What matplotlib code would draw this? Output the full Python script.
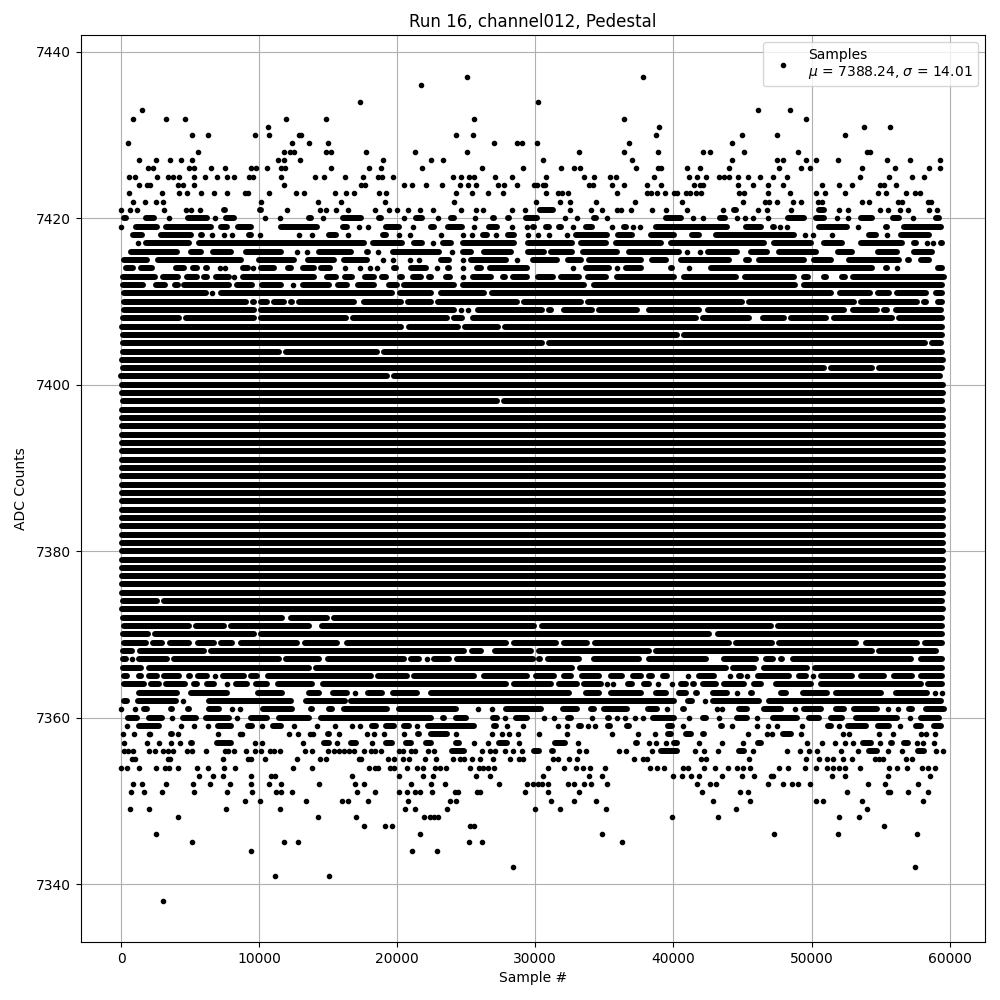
#!/usr/bin/python
#coding: utf8

##
## => Pedestal scatter for one ADC channel
## Values are read off the picture. Single numbers are separate dots,
## (start, end) pairs are stretches where the dots merge into one bar.
##

import matplotlib
matplotlib.use("Agg")
import matplotlib.pyplot as plt

## sparse dots above the band
top_levels = [7437, 7436, 7434, 7433, 7432, 7431, 7430, 7429, 7428, 7427, 7426, 7425, 7424, 7423, 7422, 7421]
top_samples = [
    [25080, 37825],
    [21750],
    [17330, 30220],
    [1545, 46150, 48470],
    [894, 3284, 4660, 11975, 14870, 25590, 36450, 49630],
    [10670, 38980, 53830, 55710],
    [5167, 6325, 9730, 10740, 12880, 13030, 24285, 25517, 38765, 44990, 47530, 52450],
    [532, 12410, 13640, 15015, 27040, 28700, 29060, 30150, 36810, 44270],
    [5600, 11830, 12260, 12550, 14870, 15230, 17770, 21320, 25080, 33190, 36450, 38910, 42170, 42675, 45140, 49050, 54045, 54260],
    [1330, 2560, 3570, 4370, 5170, 11395, 11830, 12990, 19000, 22475, 23345, 30580, 37030, 44270, 47530, 47960, 49630, 50350, 51945, 55500, 57160, 59330],
    [1980, 2340, 4950, 5310, 6540, 7556, 9440, 9800, 10600, 11610, 11900, 15230, 17985, 18850, 21820, 26170, 29140, 31885, 32825, 33260, 37315, 38910, 39130, 40985, 41950, 44050, 47670, 49265, 49920, 53685, 56075, 58535, 59330],
    [604, 1040, 2630, 3430, 3790, 4200, 5310, 6110, 6980, 7700, 8210, 9295, 9585, 11610, 14075, 14725, 16250, 17550, 18640, 18930, 19720, 24070, 24650, 25230, 25590, 27110, 28340, 30800, 33550, 34275, 35435, 35870, 38620, 41155, 41735, 42385, 43330, 43690, 44050, 44705, 45430, 46300, 47240, 48250, 53540, 55640, 57305, 58170],
    [1330, 1910, 2100, 4150, 4515, 5310, 11830, 17400, 17695, 20520, 21100, 22110, 23270, 24575, 25150, 25730, 27325, 27760, 28700, 29930, 30150, 30580, 30730, 33910, 34200, 35580, 36450, 38110, 39130, 41515, 41950, 42170, 44705, 45790, 46875, 47960, 50790, 52015, 52960, 54990, 55280, 56145],
    [604, 2990, 4225, 4805, 5820, 6760, 7700, 9005, 9220, 10740, 12700, 13280, 15520, 16320, 16900, 18710, 19215, 24285, 25445, 26600, 27690, 30800, 31670, 31960, 32390, 35940, 38110, 38400, 38830, 39420, 40070, 40285, 40940, 41230, 41660, 42025, 44775, 45140, 46875, 48470, 50350, 51000, 52450, 54840, 55420, 56870, 57520, 57885],
    [894, 1760, 2560, 3070, 10165, 14290, 15955, 19145, 24140, 30075, 31810, 32540, 34420, 37245, 40650, 45065, 46660, 46950, 47530, 48685, 49265, 50500, 50790, 53685, 54190, 56290, 56580, 58465, 58680],
    [25, 680, 1185, 3140, 4730, 5095, 5745, (7270, 7700), (9870, 10310), 12050, 14435, 14870, 15590, 16465, 18420, 19435, 20010, 20810, 21680, 22620, 24650, 25730, 26240, 28340, 29280, (30150, 31500), 32540, 34060, 34860, 35940, 36230, 36955, 38475, 39490, 40985, 43620, (44200, 44700), 46150, 46800, 48540, (50350, 51080), 52015, 52670, 54990, 55570, 56435, 57015, 58535, 59115],
]

## upper part of the band, broken rows
upper_levels = [7420, 7419, 7418, 7417, 7416, 7415, 7414, 7413, 7412, 7411, 7410, 7409, 7408, 7407, 7406, 7405, 7404, 7402, 7401, 7398]
upper_spans = [
    [(25, 530), (1620, 2580), 3500, (4150, 4515), (4640, 6450), 6810, (7410, 8380), 10450, 11540, (13450, 13930), 14650, (15860, 17550), (18470, 19000), 20520, (21170, 22020), 22980, (23710, 24320), 25640, (26720, 27210), (27830, 28300), (29140, 30300), 32180, 33050, (34050, 34560), 35220, (39270, 40720), 41450, 42170, (43200, 43900), 44580, 45190, 45790, 46880, (48080, 49650), (50140, 51100), 51825, 52670, (53400, 54600), (55690, 56540), 57380, (58830, 59430)],
    [25, (890, 2830), (3070, 6690), (7050, 7900), (8260, 9590), (10310, 10670), (11395, 14410), (15860, 16585), 17260, 17915, (19000, 20325), 21170, (22260, 22860), (23465, 24915), 25565, (26490, 27450), 28290, 29380, (29620, 30100), (30580, 31180), (31550, 32030), 32700, (33480, 34325), 35555, (36250, 36730), 37100, 37580, (38550, 44100), (45065, 46510), (47000, 47500), 47720, 48200, (50380, 52790), 53400, (55200, 55690), (56530, 59550)],
    [(650, 1740), (2700, 5240), (5600, 6085), 6615, 7485, 8065, (9100, 9585), 10090, 12915, 13860, (14890, 15740), 16465, (18760, 19360), 20160, 20950, 23200, 24800, 25445, (26000, 26720), 27180, (27810, 28660), 29500, 30220, 31020, 32270, (32750, 35410), (35770, 37220), (38190, 40240), (41150, 42050), (42890, 48930), 49530, 50130, 51460, (52070, 52430), (53995, 54840), 55450, (56290, 58700)],
    [(-70, 290), 1255, (1620, 5120), (5480, 17790), (18030, 20570), (21050, 22020), 22620, (23100, 24070), (24550, 28660), (29260, 32880), (33120, 35290), (35650, 39270), (39630, 46750), (47120, 50140), (50740, 52430), (53400, 56770), (57260, 57740), 58340, 58830, (59190, 59670)],
    [(530, 4270), (4880, 5960), (6450, 8140), (8860, 11760), 12720, 13450, (14170, 16825), (17670, 18030), 18640, (19480, 23230), 23950, (24550, 25520), (26120, 28410), (29260, 30820), (30940, 32880), (33240, 36130), (36620, 40600), 40960, 41930, (42290, 44820), (45430, 47000), (47480, 50500), (51700, 53150), (54600, 56410), (57260, 58950)],
    [(50, 2100), (2460, 8860), (9830, 12720), (13330, 15620), (15980, 18030), 19000, 19680, 20930, 21610, (22980, 23950), 24745, (25155, 28050), 28710, (29620, 31790), (32150, 33480), (33720, 37830), (38260, 39630), (40360, 44220), (45065, 45670), (46030, 49650), (50000, 51590), (52550, 56540), (56780, 57260), (57740, 58700)],
    [(170, 1040), (1260, 2440), (2830, 3070), (3790, 4730), (5000, 5720), (6000, 6450), 7160, 7510, (8080, 8420), (8620, 9350), 9590, (9980, 11280), (11900, 12480), (13020, 14170), (14300, 15340), 16190, 17335, 18030, 18520, (19600, 20110), (20810, 22260), 22860, (23470, 23950), 24770, (25600, 26240), (26550, 29620), (31300, 31670), 32760, (33480, 35530), 35890, (36375, 37830), (38190, 38550), (39630, 40120), 41150, (42530, 54600), (55200, 55690), 56170, (58950, 59670)],
    [(-60, 2660), (2850, 4330), (4560, 5720), (5840, 6450), (6720, 8000), 8210, (8620, 14170), (14700, 15740), (16000, 16950), (17500, 18520), (18700, 19400), (20030, 20570), (20930, 21900), (22140, 22620), (22860, 23150), (23350, 24020), 24770, (25310, 27000), (27480, 27980), (28170, 29620), (30040, 31500), (31670, 33350), (33600, 35300), (35700, 40260), (40560, 44700), (45000, 48930), (49300, 49950), (50700, 51250), (52000, 52600), (52800, 59750)],
    [(-40, 1780), (2340, 3350), (3700, 4300), (4400, 8000), (8240, 9700), (10000, 11740), 12440, (13020, 15280), (15500, 16580), (16950, 18520), (19250, 20200), (20330, 24320), (24550, 33700), (34050, 49000), (49300, 59650)],
    [(10, 6325), 6615, (7050, 19800), (20000, 22650), (22950, 26450), (26700, 51600), (51850, 54400), (54650, 55800), (56000, 58500), (58800, 59650)],
    [(48, 9220), (9340, 9826), (9945, 10790), (10910, 12000), (12120, 12600), (12720, 17070), (17430, 20450), (20570, 22620), (22740, 28900), (29020, 33480), (33600, 45190), (45310, 53270), (53390, 57860), (57980, 58460), (58950, 59670)],
    [(48, 9826), (9945, 24310), 24620, 25150, (25640, 30700), (30830, 31300), (31430, 31790), (31910, 34320), (34440, 37580), (38070, 42050), (42290, 52550), (52790, 54960), (55080, 55690), (55930, 59550)],
    [(-70, 4400), (4510, 9826), (9945, 16460), (16580, 23820), (23950, 24910), (25280, 41800), (41970, 45670), (46270, 48200), (48320, 51220), (51460, 56050), (56170, 59670)],
    [(-130, 20500), (20650, 24600), (24750, 27500), (27650, 59670)],
    [(-70, 40420), (40600, 59670)],
    [(-70, 30700), (30830, 58400), (58550, 59550)],
    [(-70, 11640), (11760, 18750), (18880, 59670)],
    [(-70, 51060), (51200, 54540), (54680, 59670)],
    [(-200, 19480), (19600, 59500)],
    [(-70, 27400), (27550, 59670)],
]

## rows that stay unbroken across the whole run
solid_levels = [7403, 7400, 7399, 7397, 7396, 7395, 7394, 7393, 7392, 7391, 7390, 7389, 7388, 7387, 7386, 7385, 7384, 7383, 7382, 7381, 7380, 7379, 7378, 7377, 7376, 7375, 7373]
solid_start = -130
solid_end = 59700

## lower part of the band, broken rows
lower_levels = [7374, 7372, 7371, 7370, 7369, 7368, 7367, 7366, 7365, 7364, 7363, 7362, 7361, 7360, 7359, 7358, 7357, 7356]
lower_spans = [
    [(-70, 2770), (2900, 59670)],
    [(-70, 11880), (12120, 15130), (15250, 59670)],
    [(48, 5120), (5240, 7650), (7770, 13810), (14000, 14170), (14400, 30100), (30290, 47240), (47360, 59670)],
    [(-70, 2150), (2290, 9826), (9945, 42770), (43010, 59670)],
    [(48, 1980), (2100, 3190), (3360, 5120), (5360, 6930), (7050, 8250), (8500, 12960), (13150, 15860), (16170, 28050), (28290, 31670), (31910, 33960), (34130, 44220), (44340, 47360), (47480, 53400), (53760, 57860), (58050, 59670)],
    [(-70, 1010), (1180, 6200), (6320, 25030), (25230, 26240), (26360, 26720), (26920, 29860), (30100, 38430), (38550, 54600), (54720, 59190)],
    [(-70, 530), 772, (1090, 3550), (3670, 11640), (11760, 14530), (14770, 20690), (20810, 21770), 22130, (22500, 23950), (24110, 30050), (30100, 30530), (30700, 33360), (33480, 33840), (34080, 37700), (38020, 42530), (43500, 46150), (46510, 47430), (47600, 48080), (48440, 57380), (57740, 59670)],
    [(-70, 1620), (1860, 13810), (13930, 32870), (33040, 43980), (44100, 46030), (46390, 49890), (50090, 59670)],
    [(0, 650), (1080, 1620), (1860, 2820), (2950, 4400), (4710, 5190), (5360, 6450), 6810, (7170, 9100), (9240, 10070), (10430, 18270), (18400, 20930), (21050, 25760), (26120, 29620), (29860, 31550), (31910, 32750), (33190, 34800), (35290, 36500), (36860, 37830), (38070, 38670), (39080, 39750), (39990, 40360), 41080, (41690, 43130), 44100, (44580, 45070), 45310, (45910, 48570), (48930, 49770), 50130, (50500, 53150), (53400, 55450), (55810, 57500), (57740, 59670)],
    [(48, 1860), (1980, 2950), (3070, 4800), (5120, 5720), (6030, 6930), (7170, 7410), 7650, (8130, 9340), (9580, 10790), (11150, 14050), (14410, 28050), (28290, 31300), (31550, 33240), (33360, 34930), 35170, 35650, (36500, 37220), (37700, 38430), 38910, 39880, (40360, 41080), (41200, 41690), (41930, 43250), (43500, 45310), (45670, 46510), (47240, 50130), (50500, 58100), (58220, 59670)],
    [(170, 530), (1140, 4270), (4880, 7890), (9700, 11880), (12720, 13090), (13450, 14530), (15140, 16585), 16950, (17670, 19120), (19480, 21650), (22260, 32640), (33480, 34800), (35290, 37830), (38550, 39630), (40240, 41080), (41450, 41930), (42650, 44100), 44580, (45430, 45910), (47600, 48320), (49170, 51340), (51580, 55200), (55930, 58580), 58950, 59430],
    [(50, 650), (1015, 4150), 4515, (5120, 5480), (6205, 12480), (13205, 16400), (16500, 40240), (40840, 41570), 42290, (42650, 46390), (46750, 59550)],
    [25, 1015, (1500, 2100), (3430, 3910), (4640, 5120), (6205, 7290), 8015, 8620, (10070, 12600), (13565, 14050), (14890, 15500), (15980, 19480), (19960, 24430), (24800, 25155), 25880, 26850, (27690, 30580), (31790, 33240), (33840, 34450), (34800, 36860), (37950, 39030), 39560, (40480, 40960), (41930, 42290), 43130, 43500, (44580, 45550), (46390, 47960), 48800, (49290, 50860), (51580, 52550), (52920, 54960), 55570, 56290, (56900, 57500), (58100, 59790)],
    [(290, 1380), (1860, 3190), 3670, (4270, 5600), (5960, 8015), 8380, (9220, 10790), (11270, 13810), (14290, 22620), (23100, 23585), (24070, 25155), (26720, 27450), 27810, (28415, 29620), 30650, 31380, (32150, 32750), (33240, 33600), 34130, (35050, 35530), 35940, 36520, 37245, 37825, (38310, 40240), 41150, (41930, 42530), 43330, (44390, 45550), 46030, (46990, 49170), (49650, 50740), (51220, 52430), (53030, 56410), 57140, (57740, 59430)],
    [460, (1135, 2950), 4345, 5310, 6325, (6810, 8140), (8980, 9700), 10240, (10790, 11760), 12550, 14170, 15500, 16750, 17335, (17985, 18640), (19000, 19960), (20325, 21050), 21410, (22020, 25760), (26850, 27330), 27930, 29140, (30460, 30820), 31670, 32270, (33000, 33480), 33840, 34350, (35050, 35600), (36430, 36980), (39390, 40120), 40720, (42650, 42890), (43260, 43740), 44270, 46080, 46875, 47530, (48200, 48570), 49290, (50010, 50380), (50980, 51580), 52020, (52430, 54120), (54600, 55810), 56440, (57380, 58100), (58700, 59550)],
    [170, 966, 2040, 2100, (3430, 3910), 4150, (4640, 5000), 7050, 8620, 8740, 12190, 12840, 13690, 13930, (14775, 15250), 15770, 17790, 18350, 19070, 20520, (21300, 21770), (22260, 23830), 24285, 26890, 27570, 28125, 28770, 30290, 32320, 35580, 37460, 38690, (39390, 39990), (40720, 41450), (41930, 42410), 45430, 46750, 47170, (47770, 48690), 49220, (51100, 51460), 52260, 52740, (53400, 53640), 54890, 55930, (57140, 57500), 57910, 58270, 58920],
    [240, 1910, 2780, 3645, 4300, (4880, 5360), (6760, 8140), 9730, 10240, 13205, (14533, 15250), 15670, (16465, 17190), 18200, (19000, 19840), (20450, 21170), (21895, 22620), (24070, 24670), 25590, 26600, (27210, 28170), 28850, (31260, 32320), 33120, (37100, 37580), 38260, 38770, 39460, (39880, 40480), (40960, 41330), 41880, (42650, 42890), 43500, 45065, (45910, 46510), (48080, 48320), 49650, 50790, 51730, 52450, 53030, (53510, 54480), 54990, (55570, 56050), (56530, 57190), 57670, 58100, 58900],
    [240, 530, 894, 2050, 2490, 3070, 3430, 3790, 4805, 5170, 6155, 7560, 7775, 8210, 9080, 9730, 10165, 10815, 11105, 11540, 13350, 13860, 15015, 15450, 15810, 16175, 16535, 16900, 17620, 18130, 18420, 18850, 20160, 20450, 21030, 21320, 22260, 22690, (23800, 25000), 26170, 26750, 27110, 27835, 28415, 29065, (29740, 30460), (31060, 31430), (31910, 32150), 33190, 33700, (35170, 35530), 36090, 36590, 38475, (38910, 40480), 41590, 42240, 43260, (44580, 45310), 45790, 48250, 49190, 49850, 50430, (51100, 51340), 52120, 53400, (54000, 54960), 55570, 56580, (57500, 58340), 59040, 59500],
]

## sparse dots below the band
bottom_levels = [7355, 7354, 7353, 7352, 7351, 7350, 7349, 7348, 7347, 7346, 7345, 7344, 7342, 7341, 7338]
bottom_samples = [
    [820, 1040, 3430, 3570, 7410, 9220, 9440, 10450, 12770, 14435, 14870, 17260, 17400, 19360, 19800, 20450, 20880, 22040, 22840, 24070, 24575, 24865, 25445, 26025, 26965, 28200, 28850, 29140, 31260, 31670, 32470, 33040, 37170, 37825, 38110, 42020, 42360, 45500, 49630, 50570, 51150, 51580, 52310, 52960, 54600, 54900, 55210, 56870, 57300],
    [25, 460, 1330, 2560, 3210, 3500, 4150, 5530, 6325, 7485, 8230, 12480, 13860, 17985, 18420, 18640, 19510, 19800, 20740, 21460, 21895, 22765, 23130, 23560, 25300, 25950, 26240, 26600, 27040, 30940, 32100, 32970, 33480, 33990, 35070, 38310, 38790, 39350, 40720, 41080, 42240, 43040, 43980, 44580, 45070, 45550, 47670, 48320, 49550, 50350, 51100, 51580, 52020, 52450, 53540, 55640, 56170, 56940, 57980, 58450, 58950],
    [5675, 6690, 7410, 9440, 10890, 11180, 16750, 20160, 21895, 22620, 25735, 26750, 30580, 33910, 34850, 39950, 40650, 41300, 41880, 43550, 44990, 45860, 47070, 47200, 51460, 52450, 55570, 58560],
    [894, 1545, 3284, 5240, 6470, 7920, 9440, 10740, 11610, 14365, 16970, 17620, 21030, 22475, 23490, 27400, 29430, 29860, 30200, 30500, 30940, 32390, 32830, 33500, 34000, 35220, 41730, 42680, 43110, 46880, 47970, 48610, 49050, 49920, 54120, 55350, 57740],
    [750, 1690, 2995, 5310, 7700, 9510, 11250, 11610, 12410, 17115, 18420, 20160, 20740, 21320, 21680, 22550, 24210, 24430, 25810, 26025, 29280, 30940, 33190, 42100, 44850, 45430, 52600, 55570, 55720, 57015, 58460],
    [9005, 10090, 13420, 16030, 16465, 17910, 20810, 23850, 24285, 31160, 32830, 34420, 42890, 45570, 50350, 50860, 53685, 58100],
    [676, 2050, 7630, 11540, 20590, 21320, 23635, 30000, 31810, 35140, 44560, 54045],
    [4150, 14290, 17040, 21970, 22400, 22690, 22980, 39925, 43250, 52015, 53470],
    [17620, 19145, 19650, 25300, 25590, 55280],
    [2560, 21680, 34855, 47310, 51945, 57670],
    [5167, 11830, 12840, 25230, 26170, 36300],
    [9440, 21100, 22910],
    [28410, 57520],
    [11180, 15090],
    [3067],
]

x_ticks = [0, 10000, 20000, 30000, 40000, 50000, 60000]
y_ticks = [7340, 7360, 7380, 7400, 7420, 7440]
mu = 7388.24
sigma = 14.01


def split_row(level, marks, dot_x, dot_y, bar_y, bar_start, bar_end):
    """
    Sort one row into separate dots and merged stretches
    """
    ## half a dot width, the caps of the bars add it back
    cap = 190
    for mark in marks:
        if(isinstance(mark, tuple)):
            bar_y.append(level)
            bar_start.append(min(mark[0] + cap, sum(mark) / 2 - 1))
            bar_end.append(max(mark[1] - cap, sum(mark) / 2 + 1))
        else:
            dot_x.append(mark)
            dot_y.append(level)


## collect marks
dot_x, dot_y = [], []
bar_y, bar_start, bar_end = [], [], []
for level, marks in zip(top_levels + upper_levels + lower_levels + bottom_levels,
                        top_samples + upper_spans + lower_spans + bottom_samples):
    split_row(level, marks, dot_x, dot_y, bar_y, bar_start, bar_end)
for level in solid_levels:
    split_row(level, [(solid_start, solid_end)], dot_x, dot_y, bar_y, bar_start, bar_end)

## Generate and save figure
fig, ax = plt.subplots(figsize=(10, 10), dpi=100)
ax.plot(dot_x, dot_y, '.', color='black',
        label="Samples\n$\\mu$ = %.2f, $\\sigma$ = %.2f" % (mu, sigma))
ax.hlines(bar_y, bar_start, bar_end, colors='black', linewidth=4.3, capstyle='round')
ax.set_xlim(-2933, 62563)
ax.set_ylim(7333.03, 7442.04)
ax.set_xticks(x_ticks)
ax.set_yticks(y_ticks)
ax.set_title("Run 16, channel012, Pedestal")
ax.set_xlabel("Sample #")
ax.set_ylabel("ADC Counts", labelpad=5.5)
ax.grid(True)
ax.legend(loc='upper right')
fig.subplots_adjust(left=0.0805, right=0.985, top=0.965, bottom=0.058)
fig.savefig("out.png")
plt.close(fig)
